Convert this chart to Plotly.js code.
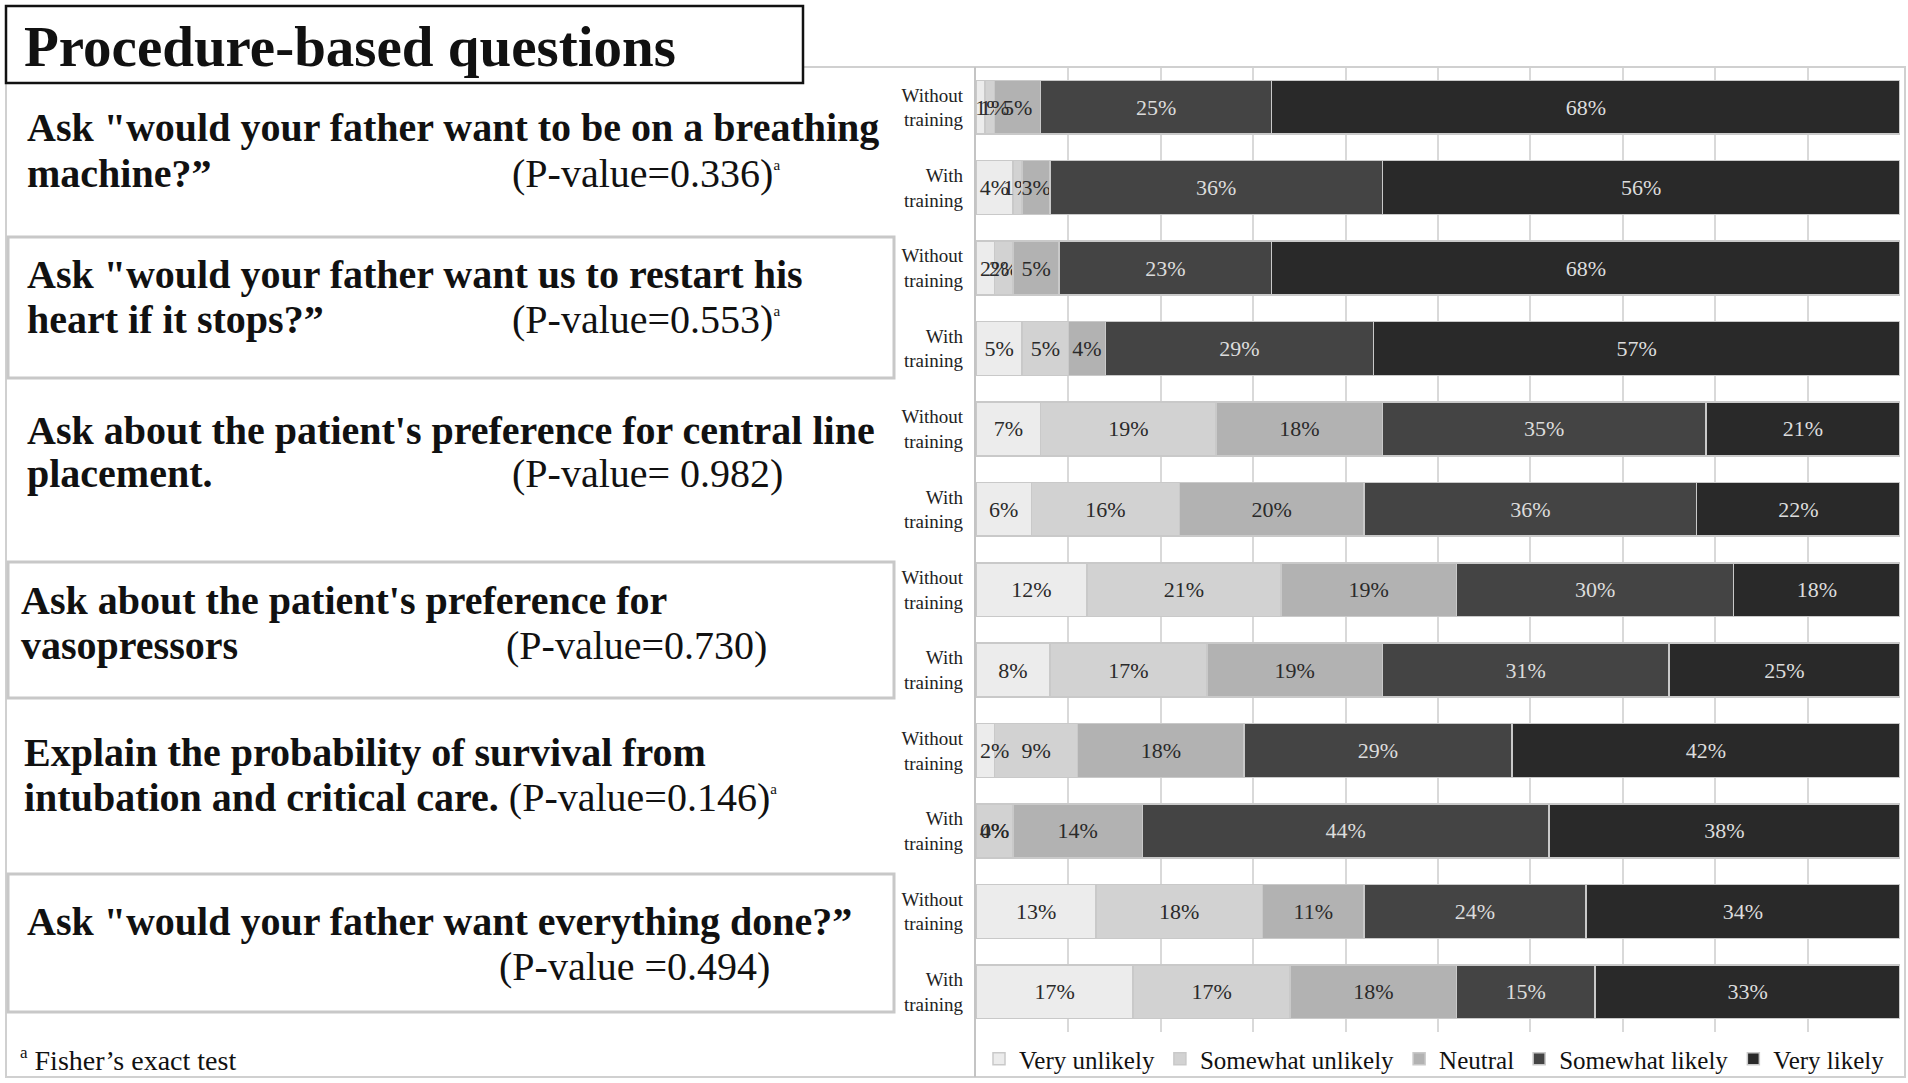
<!DOCTYPE html>
<html>
<head>
<meta charset="utf-8">
<script src="https://cdn.plot.ly/plotly-3.0.1.min.js"></script>
<style>html,body{margin:0;padding:0;background:#fff;}#chart{width:1908px;height:1083px;}</style>
</head>
<body>
<div id="chart"></div>
<script>
// ---- Data (top to bottom) ----
const categories = ["Very unlikely", "Somewhat unlikely", "Neutral", "Somewhat likely", "Very likely"];
const groupLabels = ["Without training", "With training"];
const questionIds = ["Q1", "Q2", "Q3", "Q4", "Q5", "Q6"];
const veryUnlikely     = [1, 4, 2, 5, 7, 6, 12, 8, 2, 0, 13, 17];
const somewhatUnlikely = [1, 1, 2, 5, 19, 16, 21, 17, 9, 4, 18, 17];
const neutral          = [5, 3, 5, 4, 18, 20, 19, 19, 18, 14, 11, 18];
const somewhatLikely   = [25, 36, 23, 29, 35, 36, 30, 31, 29, 44, 24, 15];
const veryLikely       = [68, 56, 68, 57, 21, 22, 18, 25, 42, 38, 34, 33];
const questionLine1 = [
  'Ask "would your father want to be on a breathing',
  'Ask "would your father want us to restart his',
  "Ask about the patient's preference for central line",
  "Ask about the patient's preference for",
  "Explain the probability of survival from",
  'Ask "would your father want everything done?\u201d'
];
const questionLine2 = [
  "machine?\u201d",
  "heart if it stops?\u201d",
  "placement.",
  "vasopressors",
  "intubation and critical care.",
  ""
];
const pValues = ["(P-value=0.336)", "(P-value=0.553)", "(P-value= 0.982)", "(P-value=0.730)", "(P-value=0.146)", "(P-value =0.494)"];
const fisherMark = [true, true, false, false, true, false];
const chartTitle = "Procedure-based questions";
const footnote = "Fisher\u2019s exact test";

// ---- Styles ----
const colors = ["#ececec", "#d2d2d2", "#b2b2b2", "#444444", "#292929"];
const textColors = ["#2a2a2a", "#2a2a2a", "#2a2a2a", "#dcdcdc", "#dcdcdc"];
const serif = "Liberation Serif, Times New Roman, serif";
const labelSize = 22;
const W = 1908, H = 1083;
const px = x => x / W;
const py = y => 1 - y / H;

// row ids
const rowIds = [];
const rowLabels = [];
questionIds.forEach(q => groupLabels.forEach(g => {
  rowIds.push(q + "|" + g);
  rowLabels.push(g.replace(" ", "<br>"));
}));

const seriesValues = [veryUnlikely, somewhatUnlikely, neutral, somewhatLikely, veryLikely];
// the narrow first segments get their labels anchored at the segment start
const edgeLabel = (k, v) => k === 0 && v <= 2;
const traces = categories.map((name, k) => ({
  type: "bar",
  orientation: "h",
  name: name,
  x: seriesValues[k],
  y: rowIds,
  marker: {color: colors[k], line: {color: "#c9c9c9", width: 1.5}},
  text: seriesValues[k].map(v => v + "%"),
  textposition: seriesValues[k].map(v => edgeLabel(k, v) ? "none" : "inside"),
  insidetextanchor: "middle",
  textangle: 0,
  constraintext: "none",
  cliponaxis: false,
  insidetextfont: {family: serif, size: labelSize, color: textColors[k]},
  hoverinfo: "skip"
}));

const annotations = [];
rowIds.forEach((id, i) => {
  let cum = 0;
  seriesValues.forEach((vals, k) => {
    if (vals[i] === 0 || edgeLabel(k, vals[i])) {
      annotations.push({xref: "x", yref: "y", x: cum, y: id, text: vals[i] + "%", showarrow: false,
        xanchor: "left", yanchor: "middle", xshift: 2, font: {family: serif, size: labelSize, color: textColors[k]}});
    }
    cum += vals[i];
  });
});

// left panel text
const line1Y = [128, 274, 430, 600, 752, 921];
const line2Y = [173, 319, 473, 645, 797, 966];
const textX = [25, 25, 25, 19, 22, 25];
const pX = [510, 510, 510, 504, 500, 497];
const qSize = 40, pSize = 40;
const supA = '<sup><span style="font-size:15px">a</span></sup>';
questionIds.forEach((q, i) => {
  annotations.push({xref: "paper", yref: "paper", x: px(textX[i]), y: py(line1Y[i]), xanchor: "left", yanchor: "middle",
    text: "<b>" + questionLine1[i] + "</b>", showarrow: false, font: {family: serif, size: qSize, color: "#111"}});
  if (i === 4) {
    annotations.push({xref: "paper", yref: "paper", x: px(textX[i]), y: py(line2Y[i]), xanchor: "left", yanchor: "middle",
      text: "<b>" + questionLine2[i] + "</b> " + pValues[i] + (fisherMark[i] ? supA : ""), showarrow: false,
      font: {family: serif, size: qSize, color: "#111"}});
  } else {
    if (questionLine2[i]) {
      annotations.push({xref: "paper", yref: "paper", x: px(textX[i]), y: py(line2Y[i]), xanchor: "left", yanchor: "middle",
        text: "<b>" + questionLine2[i] + "</b>", showarrow: false, font: {family: serif, size: qSize, color: "#111"}});
    }
    annotations.push({xref: "paper", yref: "paper", x: px(pX[i]), y: py(line2Y[i]), xanchor: "left", yanchor: "middle",
      text: pValues[i] + (fisherMark[i] ? supA : ""), showarrow: false, font: {family: serif, size: pSize, color: "#111"}});
  }
});
annotations.push({xref: "paper", yref: "paper", x: px(22), y: py(46), xanchor: "left", yanchor: "middle",
  text: "<b>" + chartTitle + "</b>", showarrow: false, font: {family: serif, size: 57, color: "#111"}});
annotations.push({xref: "paper", yref: "paper", x: px(18), y: py(1059), xanchor: "left", yanchor: "middle",
  text: '<sup><span style="font-size:17px">a</span></sup> ' + footnote, showarrow: false, font: {family: serif, size: 28, color: "#111"}});

const boxLine = {color: "#c8c8c8", width: 3};
const shapes = [
  {type: "rect", xref: "paper", yref: "paper", x0: px(6), x1: px(1905), y0: py(1077), y1: py(67), line: {color: "#d0d0d0", width: 2}},
  {type: "line", xref: "paper", yref: "paper", x0: px(975), x1: px(975), y0: py(1077), y1: py(67), line: {color: "#c4c4c4", width: 2}},
  {type: "rect", xref: "paper", yref: "paper", x0: px(8), x1: px(894), y0: py(378), y1: py(237), line: boxLine},
  {type: "rect", xref: "paper", yref: "paper", x0: px(8), x1: px(894), y0: py(698), y1: py(562), line: boxLine},
  {type: "rect", xref: "paper", yref: "paper", x0: px(8), x1: px(894), y0: py(1012), y1: py(874), line: boxLine},
  {type: "rect", xref: "paper", yref: "paper", x0: px(6), x1: px(803), y0: py(83), y1: py(6), line: {color: "#111", width: 2.5}, fillcolor: "#fff"}
];

const layout = {
  width: W, height: H,
  margin: {l: 0, r: 0, t: 0, b: 0},
  paper_bgcolor: "#fff", plot_bgcolor: "#fff",
  barmode: "stack",
  bargap: 0.33,
  showlegend: true,
  legend: {orientation: "h", x: px(979), xanchor: "left", y: py(1059), yanchor: "middle",
    font: {family: serif, size: 25, color: "#111"}, traceorder: "normal", itemclick: false, bgcolor: "rgba(0,0,0,0)"},
  xaxis: {domain: [px(976), px(1900)], range: [0, 100], dtick: 10, showgrid: true, gridcolor: "#d9d9d9", gridwidth: 2,
    showticklabels: false, zeroline: false, showline: false, ticks: "", fixedrange: true},
  yaxis: {domain: [py(1032), py(67)], type: "category", autorange: "reversed", tickvals: rowIds, ticktext: rowLabels,
    tickfont: {family: serif, size: 19, color: "#222"}, ticks: "", ticklabelstandoff: 12, showgrid: false,
    zeroline: false, showline: false, automargin: false, fixedrange: true},
  annotations: annotations,
  shapes: shapes,
  font: {family: serif}
};

Plotly.newPlot("chart", traces, layout, {displayModeBar: false, staticPlot: true});
</script>
</body>
</html>
